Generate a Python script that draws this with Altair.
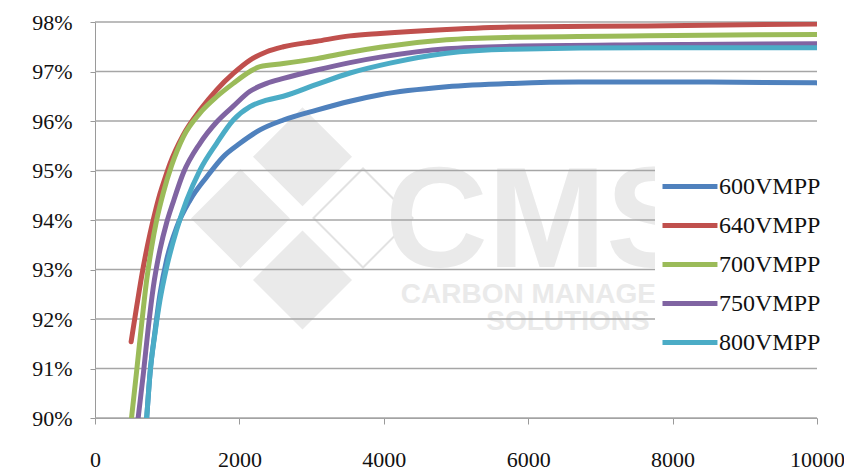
import altair as alt
import pandas as pd

series_names = ["600VMPP", "640VMPP", "700VMPP", "750VMPP", "800VMPP"]
series_colors = ["#4F81BD", "#C0504D", "#9BBB59", "#8064A2", "#4BACC6"]

blue_x = [716, 762, 831, 900, 993, 1131, 1316, 1547, 1777, 2008, 2285, 2609, 3070, 3532, 3950, 4870, 5790, 6700, 8500, 10000]
blue_y = [90.0, 90.9, 91.75, 92.5, 93.2, 93.85, 94.4, 94.87, 95.28, 95.55, 95.82, 96.02, 96.22, 96.40, 96.53, 96.69, 96.76, 96.79, 96.79, 96.77]

red_x = [500, 577, 670, 762, 831, 900, 970, 1039, 1223, 1454, 1685, 1916, 2147, 2378, 2609, 3070, 3532, 3950, 4870, 5790, 7650, 10000]
red_y = [91.54, 92.25, 93.06, 93.72, 94.15, 94.53, 94.85, 95.14, 95.72, 96.22, 96.63, 96.96, 97.23, 97.40, 97.50, 97.61, 97.72, 97.77, 97.85, 97.90, 97.92, 97.96]

green_x = [480, 508, 577, 646, 716, 785, 854, 946, 1061, 1223, 1454, 1685, 1916, 2147, 2285, 2609, 3070, 3532, 3950, 4870, 5790, 7650, 10000]
green_y = [89.65, 90.03, 90.95, 91.9, 92.79, 93.46, 94.0, 94.55, 95.1, 95.68, 96.16, 96.49, 96.76, 97.0, 97.10, 97.16, 97.26, 97.39, 97.49, 97.64, 97.69, 97.72, 97.75]

purple_x = [575, 600, 670, 739, 808, 900, 993, 1080, 1223, 1454, 1685, 1916, 2147, 2378, 2609, 3070, 3532, 3950, 4870, 5790, 7650, 10000]
purple_y = [89.7, 90.03, 90.9, 91.84, 92.65, 93.4, 93.95, 94.35, 94.95, 95.55, 95.98, 96.3, 96.6, 96.76, 96.86, 97.03, 97.18, 97.29, 97.46, 97.51, 97.54, 97.56]

cyan_x = [695, 716, 762, 831, 900, 993, 1131, 1270, 1454, 1685, 1916, 2147, 2378, 2609, 3070, 3532, 4086, 4870, 5790, 7650, 10000]
cyan_y = [89.6, 90.0, 90.9, 91.71, 92.38, 93.05, 93.8, 94.40, 95.01, 95.55, 96.02, 96.29, 96.42, 96.5, 96.74, 96.97, 97.17, 97.37, 97.45, 97.48, 97.48]

x_ticks = [0, 2000, 4000, 6000, 8000, 10000]
y_ticks = [90, 91, 92, 93, 94, 95, 96, 97, 98]

# watermark (logo) annotations, in data units
wm_diamond_x = [2874, 2014, 2874]
wm_diamond_y = [95.28, 94.03, 92.79]
wm_outline_x = [3712]
wm_outline_y = [94.04]
wm_text = ["CMS", "CARBON MANAGEMENT", "SOLUTIONS"]
wm_text_x = [6205, 6551, 6551]
wm_text_y = [93.05, 92.32, 91.78]
wm_text_size = [142, 28, 28]

rows = []
for name, xs, ys in zip(series_names,
                        [blue_x, red_x, green_x, purple_x, cyan_x],
                        [blue_y, red_y, green_y, purple_y, cyan_y]):
    for i, (a, b) in enumerate(zip(xs, ys)):
        rows.append({"series": name, "x": a, "y": b, "i": i})
df = pd.DataFrame(rows)

xscale = alt.Scale(domain=[0, 10000], nice=False)
yscale = alt.Scale(domain=[90, 98], nice=False, zero=False)

dia = pd.DataFrame({"x": wm_diamond_x, "y": wm_diamond_y})
diamonds = alt.Chart(dia).mark_point(shape="diamond", filled=True, size=9800,
                                     color="#EAEAEA", opacity=1).encode(
    x=alt.X("x:Q", scale=xscale, title=None,
            axis=alt.Axis(values=x_ticks, format="d", grid=False, tickSize=6, labelPadding=25,
                          domainColor="#9a9a9a", tickColor="#9a9a9a", labelFlush=False)),
    y=alt.Y("y:Q", scale=yscale, title=None,
            axis=alt.Axis(values=y_ticks, labelExpr="datum.value + '%'", tickSize=5,
                          labelPadding=18, grid=False,
                          domainColor="#9a9a9a", tickColor="#9a9a9a")))

outl = pd.DataFrame({"x": wm_outline_x, "y": wm_outline_y})
outline = alt.Chart(outl).mark_point(shape="diamond", filled=False, size=9800,
                                     color="#E2E2E2", opacity=1, strokeWidth=2).encode(
    x=alt.X("x:Q", scale=xscale), y=alt.Y("y:Q", scale=yscale))

wmt = pd.DataFrame({"t": wm_text, "x": wm_text_x, "y": wm_text_y, "s": wm_text_size})
texts = alt.Chart(wmt).mark_text(font="Liberation Sans", fontWeight="bold",
                                 color="#EAEAEA", baseline="alphabetic",
                                 align="center").encode(
    x=alt.X("x:Q", scale=xscale), y=alt.Y("y:Q", scale=yscale), text="t:N",
    size=alt.Size("s:Q", scale=None, legend=None))

grid = alt.Chart(pd.DataFrame({"y": y_ticks})).mark_rule(
    color="#a6a6a6", strokeWidth=1.5).encode(
    y=alt.Y("y:Q", scale=yscale),
    x=alt.datum(0), x2=alt.datum(10000))

lines = alt.Chart(df).mark_line(strokeWidth=5, strokeCap="round", strokeJoin="round",
                                interpolate="monotone", clip=True).encode(
    x=alt.X("x:Q", scale=xscale),
    y=alt.Y("y:Q", scale=yscale),
    color=alt.Color("series:N", scale=alt.Scale(domain=series_names, range=series_colors),
                    legend=alt.Legend(orient="none", legendX=560, legendY=142, title=None,
                                      fillColor="white", padding=8,
                                      symbolType="M-1.25,0H3.33", symbolSize=576,
                                      symbolStrokeWidth=5, symbolFillColor="transparent",
                                      labelFont="Liberation Serif",
                                      labelFontSize=24, labelColor="#111111",
                                      rowPadding=12, labelOffset=27)),
    order="i:Q",
)

chart = alt.layer(diamonds, outline, texts, grid, lines).properties(
    width=722, height=396,
    autosize=alt.AutoSizeParams(type="none"),
    padding={"left": 87, "top": 14, "right": 27, "bottom": 56},
).configure_view(stroke=None).configure_axis(
    labelFont="Liberation Serif", labelFontSize=22, labelColor="#111111"
)

chart.save("out.html", embed_options={"renderer": "svg", "actions": False})
